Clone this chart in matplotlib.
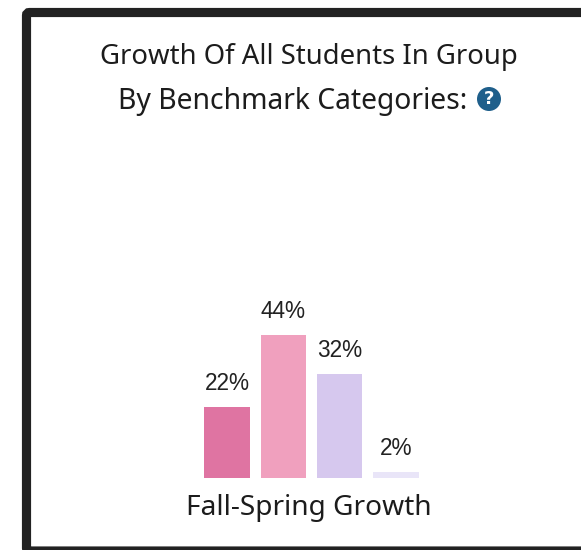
import matplotlib
matplotlib.use("Agg")
import matplotlib.pyplot as plt
from matplotlib.patches import FancyBboxPatch, Circle

categories = ["Cat 1", "Cat 2", "Cat 3", "Cat 4"]
values = [22, 44, 32, 2]
labels = ["22%", "44%", "32%", "2%"]
colors = ["#DF74A2", "#F0A0BE", "#D6C8EE", "#E9E5F8"]
title_lines = ["Growth Of All Students In Group", "By Benchmark Categories:"]
xlabel = "Fall-Spring Growth"

W, H = 581, 550
fig = plt.figure(figsize=(W / 100, H / 100), dpi=100, facecolor="white")

# full-figure pixel overlay (y down)
bg = fig.add_axes([0, 0, 1, 1])
bg.set_xlim(0, W)
bg.set_ylim(H, 0)
bg.axis("off")
bg.add_patch(FancyBboxPatch((26.5, 12.5), 640, 538.5, boxstyle="round,pad=0,rounding_size=3",
                            fc="white", ec="#222222", lw=6.6))
sans = ["Noto Sans", "DejaVu Sans"]
bg.text(309, 64, title_lines[0], ha="center", va="baseline", fontsize=19.8, color="#1c1c1c", family=sans)
bg.text(293, 109, title_lines[1], ha="center", va="baseline", fontsize=20.4, color="#1c1c1c", family=sans)
bg.add_patch(Circle((489, 99), 12, fc="#1F5F8B", ec="none"))
bg.text(489, 99, "?", ha="center", va="center", fontsize=13, fontweight="bold", color="white", family="DejaVu Sans")

# bar axes: left, right, baseline, and top in pixels
left, right, base, top = 199, 424, 478, 300
ax = fig.add_axes([left / W, 1 - base / H, (right - left) / W, (base - top) / H])
ax.patch.set_alpha(0)
ax.set_xlim(-0.5, 3.5)
ax.set_ylim(0, (base - top) / 3.25)
xs = range(len(values))
bars = ax.bar(xs, values, width=0.81, color=colors)
for x, v, s in zip(xs, values, labels):
    ax.annotate(s, (x, v), xytext=(0, 12), textcoords="offset points", ha="center", va="baseline",
                fontsize=16.3, color="#222222", family="Liberation Sans")
ax.set_xticks([])
ax.set_yticks([])
for s in ax.spines.values():
    s.set_visible(False)
bg.text(309, 515, xlabel, ha="center", va="baseline", fontsize=20.2, color="#1c1c1c", family=sans)

fig.savefig("out.png", dpi=100, facecolor="white")
